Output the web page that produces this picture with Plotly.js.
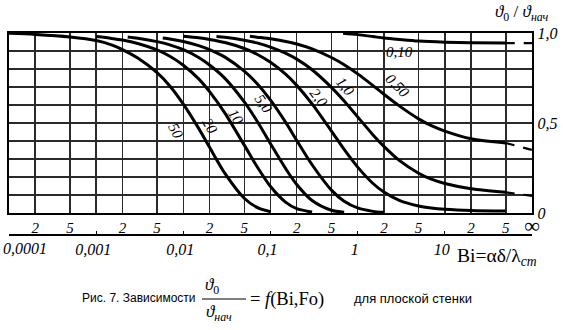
<!DOCTYPE html>
<html>
<head>
<meta charset="utf-8">
<script src="https://cdn.plot.ly/plotly-3.0.1.min.js"></script>
<style>html,body{margin:0;padding:0;background:#fff;}#chart{width:563px;height:330px;}</style>
</head>
<body>
<div id="chart"></div>
<script>
// ---- data (Bi, theta0/theta_init) ----
const fo50Bi = [0.0001, 0.0002, 0.0005, 0.001, 0.0015, 0.002, 0.003, 0.005, 0.007, 0.01, 0.015, 0.02, 0.03, 0.05, 0.07, 0.1];
const fo50Th = [0.998, 0.992, 0.978, 0.958, 0.934, 0.908, 0.861, 0.780, 0.706, 0.605, 0.470, 0.365, 0.220, 0.082, 0.031, 0.007];
const fo20Bi = [0.001, 0.0015, 0.002, 0.003, 0.005, 0.007, 0.01, 0.015, 0.02, 0.03, 0.05, 0.07, 0.1, 0.15, 0.2, 0.3];
const fo20Th = [0.980, 0.970, 0.961, 0.942, 0.906, 0.871, 0.821, 0.745, 0.674, 0.555, 0.377, 0.258, 0.147, 0.059, 0.024, 0.005];
const fo10Bi = [0.0023, 0.003, 0.005, 0.007, 0.01, 0.015, 0.02, 0.03, 0.05, 0.07, 0.1, 0.15, 0.2, 0.3, 0.5, 0.7];
const fo10Th = [0.978, 0.971, 0.952, 0.934, 0.907, 0.864, 0.822, 0.748, 0.617, 0.511, 0.385, 0.245, 0.158, 0.069, 0.015, 0.004];
const fo5Bi = [0.0058, 0.007, 0.01, 0.015, 0.02, 0.03, 0.05, 0.07, 0.1, 0.15, 0.2, 0.3, 0.5, 0.7, 1, 1.5, 2];
const fo5Th = [0.972, 0.967, 0.953, 0.930, 0.908, 0.866, 0.788, 0.719, 0.627, 0.502, 0.403, 0.268, 0.127, 0.065, 0.028, 0.009, 0.004];
const fo2Bi = [0.01, 0.015, 0.02, 0.03, 0.05, 0.07, 0.1, 0.15, 0.2, 0.3, 0.5, 0.7, 1, 1.5, 2, 3, 5, 7, 10, 20, 50];
const fo2Th = [0.982, 0.973, 0.964, 0.947, 0.914, 0.882, 0.837, 0.770, 0.709, 0.606, 0.455, 0.353, 0.255, 0.164, 0.116, 0.070, 0.039, 0.028, 0.021, 0.014, 0.011];
const fo1Bi = [0.024, 0.03, 0.05, 0.07, 0.1, 0.15, 0.2, 0.3, 0.5, 0.7, 1, 1.5, 2, 3, 5, 7, 10, 20, 50];
const fo1Th = [0.980, 0.976, 0.960, 0.945, 0.922, 0.887, 0.855, 0.796, 0.698, 0.622, 0.534, 0.434, 0.370, 0.292, 0.221, 0.188, 0.164, 0.135, 0.115];
const fo05Bi = [0.058, 0.07, 0.1, 0.15, 0.2, 0.3, 0.5, 0.7, 1, 1.5, 2, 3, 5, 7, 10, 20, 50];
const fo05Th = [0.982, 0.977, 0.968, 0.953, 0.939, 0.912, 0.864, 0.824, 0.773, 0.708, 0.660, 0.595, 0.523, 0.485, 0.455, 0.412, 0.389];
const fo01Bi = [0.68, 1, 1.5, 2, 3, 5, 10, 20, 50];
const fo01Th = [0.998, 0.991, 0.980, 0.972, 0.964, 0.955, 0.949, 0.946, 0.944];
// dashed extension to Bi = infinity (drawn at the right edge, Bi = 100)
const dashBi = [50, 100];
const dash01Th = [0.944, 0.944];
const dash05Th = [0.389, 0.350];
const dash1Th = [0.115, 0.095];

// curve labels (Fo) and where they sit on the chart
const curveLabels = ["50", "20", "10", "5,0", "2,0", "1,0", "0,50", "0,10"];
const labelBi = [0.0082, 0.0202, 0.0402, 0.0841, 0.36, 0.716, 2.90, 2.98];
const labelTh = [0.456, 0.483, 0.533, 0.606, 0.639, 0.706, 0.706, 0.894];
const labelAngle = [62, 60, 58, 55, 52, 50, 45, 0];

// tick values / labels
const gridBi = [0.0001, 0.0002, 0.0005, 0.001, 0.002, 0.005, 0.01, 0.02, 0.05, 0.1, 0.2, 0.5, 1, 2, 5, 10, 20, 50, 100];
const gridBiText = ["", "2", "5", "", "2", "5", "", "2", "5", "", "2", "5", "", "2", "5", "", "2", "5", "<span style='font-size:22px;font-style:normal'>∞</span>"];
const decadeBi = [0.0001, 0.001, 0.01, 0.1, 1, 10];
const decadeText = ["", "0,001", "0,01", "0,1", "1", "10"];
const firstDecadeText = "0,0001";
const thetaTicks = [0, 0.1, 0.2, 0.3, 0.4, 0.5, 0.6, 0.7, 0.8, 0.9, 1.0];
const thetaText = ["0", "", "", "", "", "0,5", "", "", "", "", "1,0"];

const SERIF = "Liberation Serif, Times New Roman, serif";
const SANS = "Liberation Sans, Arial, sans-serif";

function curve(x, y, dash, w) {
  return {x: x, y: y, type: 'scatter', mode: 'lines',
    line: {color: '#000', width: w || 3, shape: 'spline', smoothing: 0.8, dash: dash || 'solid'},
    hoverinfo: 'skip', showlegend: false, cliponaxis: true};
}

const traces = [
  curve(fo50Bi, fo50Th), curve(fo20Bi, fo20Th), curve(fo10Bi, fo10Th), curve(fo5Bi, fo5Th),
  curve(fo2Bi, fo2Th), curve(fo1Bi, fo1Th), curve(fo05Bi, fo05Th), curve(fo01Bi, fo01Th),
  curve(dashBi, dash01Th, 'dash', 2.2), curve(dashBi, dash05Th, 'dash', 2.2), curve(dashBi, dash1Th, 'dash', 2.2),
  {x: [1], y: [-5], xaxis: 'x2', yaxis: 'y', type: 'scatter', mode: 'markers', marker: {opacity: 0}, hoverinfo: 'skip', showlegend: false}
];

// paper helpers for text outside the plot (paper spans 523 x 202 px)
function px(v) { return (v - 9) / 523; }
function py(v) { return (235 - v) / 202; }

function note(x, y, text, font, xanchor) {
  return {x: px(x), y: py(y), xref: 'paper', yref: 'paper', xanchor: xanchor || 'center', yanchor: 'middle',
    showarrow: false, text: text, font: font};
}

const annotations = [];
curveLabels.forEach(function (t, i) {
  annotations.push({x: Math.log10(labelBi[i]), y: labelTh[i], xref: 'x', yref: 'y', text: t,
    xanchor: 'center', yanchor: 'middle', showarrow: false, textangle: labelAngle[i],
    font: {family: SERIF, size: 15, style: 'italic', color: '#000'}});
});
annotations.push(
  note(1, 248, firstDecadeText, {family: SERIF, size: 16, style: 'italic', color: '#000'}, 'left'),
  note(522, 13, "<i>ϑ</i><sub>0</sub> / <i>ϑ</i><sub><i>нач</i></sub>", {family: SERIF, size: 17, color: '#000'}),
  note(455, 257, "Bi=αδ/λ<sub><i>ст</i></sub>", {family: SERIF, size: 19.5, color: '#000'}, 'left'),
  note(198, 298, "Рис. 7. Зависимости", {family: SANS, size: 12, color: '#000'}, 'right'),
  note(212, 286, "<i>ϑ</i><sub>0</sub>", {family: SERIF, size: 17, color: '#000'}),
  note(219, 313, "<i>ϑ</i><sub><i>нач</i></sub>", {family: SERIF, size: 17, color: '#000'}),
  note(248, 299, "= <i>f</i>(Bi,Fo)", {family: SERIF, size: 18.5, color: '#000'}, 'left'),
  note(352, 298, "для плоской стенки", {family: SANS, size: 13, color: '#000'}, 'left')
);

const layout = {
  width: 563, height: 330,
  margin: {l: 9, r: 31, t: 33, b: 95, pad: 0},
  paper_bgcolor: '#fff', plot_bgcolor: '#fff',
  showlegend: false,
  xaxis: {type: 'log', range: [-4, 2], autorange: false,
    tickmode: 'array', tickvals: gridBi, ticktext: gridBiText, ticks: '',
    showgrid: true, gridcolor: '#2a2a2a', gridwidth: 1.5,
    showline: true, linecolor: '#000', linewidth: 2.2, mirror: true,
    zeroline: false, anchor: 'y', ticklabeloverflow: 'allow',
    tickfont: {family: SERIF, size: 15, style: 'italic', color: '#000'}},
  xaxis2: {type: 'log', range: [-4, 2], autorange: false, overlaying: 'x', anchor: 'free', position: 0, side: 'bottom',
    tickmode: 'array', tickvals: decadeBi, ticktext: decadeText, ticks: 'inside', ticklen: 3, tickwidth: 1, tickcolor: '#000',
    ticklabelshift: -3, ticklabeloverflow: 'allow',
    showgrid: false, showline: true, linecolor: '#000', linewidth: 2.2, zeroline: false,
    tickfont: {family: SERIF, size: 16, style: 'italic', color: '#000'}},
  yaxis: {range: [0, 1], autorange: false, domain: [22 / 202, 1], side: 'right',
    tickmode: 'array', tickvals: thetaTicks, ticktext: thetaText, ticks: '',
    showgrid: true, gridcolor: '#2a2a2a', gridwidth: 1.5, ticklabeloverflow: 'allow',
    showline: true, linecolor: '#000', linewidth: 2.2, mirror: true, zeroline: false,
    tickfont: {family: SERIF, size: 16, style: 'italic', color: '#000'}},
  shapes: [
    {type: 'line', xref: 'paper', yref: 'paper', x0: px(202), x1: px(246), y0: py(299), y1: py(299),
     line: {color: '#000', width: 1}}
  ],
  annotations: annotations
};

Plotly.newPlot('chart', traces, layout, {staticPlot: true, displayModeBar: false});
</script>
</body>
</html>
